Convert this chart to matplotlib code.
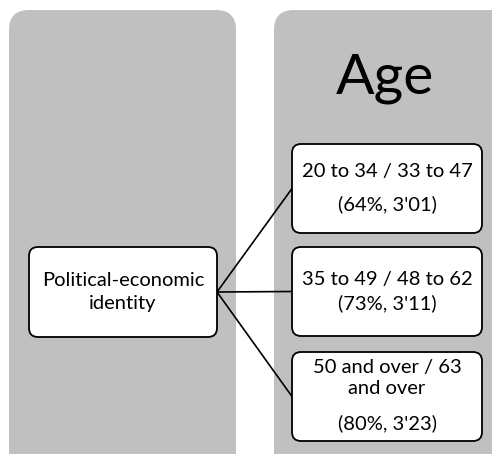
import matplotlib
matplotlib.use("Agg")
import matplotlib.pyplot as plt
from matplotlib.patches import FancyBboxPatch

# diagram content
root_label = ["Political-economic", "identity"]
panel_title = "Age"
group_labels = [["20 to 34 / 33 to 47"], ["35 to 49 / 48 to 62"], ["50 and over / 63", "and over"]]
group_stats = ["(64%, 3'01)", "(73%, 3'11)", "(80%, 3'23)"]
# vertical offsets of the text lines inside each child box (layout)
line_offsets = [[28, 60], [32, 56], [15, 37, 71]]

W, H = 492, 454
PANEL = "#c0c0c0"
FONT = "Lato"
FS = 14.5

fig = plt.figure(figsize=(W / 100, H / 100), dpi=100)
ax = fig.add_axes([0, 0, 1, 1])
ax.set_xlim(0, W)
ax.set_ylim(H, 0)
ax.axis("off")


def rbox(x0, y0, x1, y1, r, fc, ec="none", lw=0):
    p = FancyBboxPatch((x0 + r, y0 + r), (x1 - x0) - 2 * r, (y1 - y0) - 2 * r,
                       boxstyle=f"round,pad={r},rounding_size={r}",
                       fc=fc, ec=ec, lw=lw, zorder=2 if ec != "none" else 1)
    ax.add_patch(p)


# background panels
rbox(9, 10, 236, 480, 20, PANEL)
rbox(274, 10, 520, 480, 20, PANEL)

ax.text(385, 78, panel_title, fontsize=41, family=FONT, ha="center", va="center")

# root box
rx0, rx1, ry0, ry1 = 29, 217, 247, 337
rbox(rx0, ry0, rx1, ry1, 9, "white", "black", 1.3)
for k, line in enumerate(root_label):
    ax.text((rx0 + rx1) / 2, 280 + 24 * k, line, fontsize=FS, family=FONT,
            ha="center", va="center", zorder=3)

# child boxes
bx0, bx1 = 292, 482
tops = [144, 247, 352]
bh = 89
for i, (lab, st) in enumerate(zip(group_labels, group_stats)):
    y0 = tops[i]
    y1 = y0 + bh
    rbox(bx0, y0, bx1, y1, 9, "white", "black", 1.3)
    cy = (y0 + y1) / 2
    ax.plot([rx1, bx0], [(ry0 + ry1) / 2, cy], color="black", lw=1.2, zorder=1.5)
    for line, off in zip(lab + [st], line_offsets[i]):
        ax.text((bx0 + bx1) / 2, y0 + off, line, fontsize=FS, family=FONT,
                ha="center", va="center", zorder=3)

fig.savefig("out.png", dpi=100)
